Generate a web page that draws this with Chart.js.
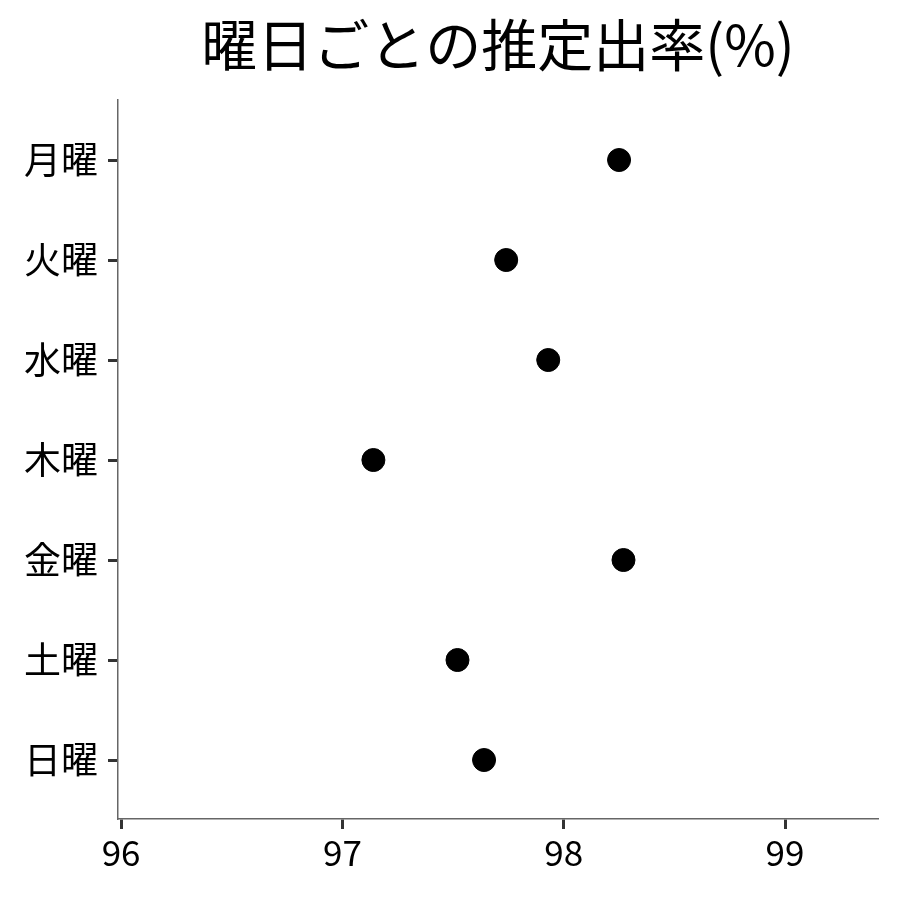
<!DOCTYPE html>
<html>
<head>
<meta charset="utf-8">
<script src="https://cdn.jsdelivr.net/npm/chart.js@4"></script>
<style>
  html, body { margin: 0; padding: 0; background: #fff; }
  #wrap { width: 900px; height: 900px; }
</style>
</head>
<body>
<div id="wrap"><canvas id="chart" width="900" height="900"></canvas></div>
<script>
// 曜日ごとの推定出率
const days = ["月曜", "火曜", "水曜", "木曜", "金曜", "土曜", "日曜"];
const rates = [98.25, 97.74, 97.93, 97.14, 98.27, 97.52, 97.64];
const xTicks = [96, 97, 98, 99];
const titleText = "曜日ごとの推定出率(%)";

const FONT = "'Noto Sans CJK JP', 'Noto Sans', sans-serif";

// タイトルはプロット領域の中央に描く
const centerTitle = {
  id: "centerTitle",
  afterDraw(chart) {
    const { ctx, chartArea } = chart;
    ctx.save();
    ctx.font = "56px " + FONT;
    ctx.fillStyle = "#000";
    ctx.textAlign = "center";
    ctx.textBaseline = "middle";
    ctx.fillText(titleText, (chartArea.left + chartArea.right) / 2, 45);
    ctx.restore();
  },
};

new Chart(document.getElementById("chart"), {
  type: "scatter",
  data: {
    datasets: [
      {
        data: rates.map((v, i) => ({ x: v, y: i })),
        backgroundColor: "#000",
        borderColor: "#000",
        pointRadius: 11.5,
        pointHoverRadius: 11.5,
      },
    ],
  },
  options: {
    responsive: false,
    animation: false,
    layout: { padding: { top: 100, right: 22, bottom: 0, left: 0 } },
    plugins: {
      legend: { display: false },
      title: { display: false },
      tooltip: { enabled: false },
    },
    scales: {
      x: {
        type: "linear",
        min: 95.986,
        max: 99.42,
        afterBuildTicks: (scale) => {
          scale.ticks = xTicks.map((v) => ({ value: v }));
        },
        afterFit: (scale) => {
          scale.height = 81;
        },
        ticks: {
          color: "#000",
          font: { family: FONT, size: 35 },
          padding: 3,
        },
        grid: {
          drawOnChartArea: false,
          drawTicks: true,
          tickLength: 10,
          tickColor: "#333",
          tickWidth: 3,
        },
        border: { color: "#666", width: 1.5 },
      },
      y: {
        type: "linear",
        reverse: true,
        min: -0.6,
        max: 6.59,
        afterBuildTicks: (scale) => {
          scale.ticks = days.map((d, i) => ({ value: i }));
        },
        afterFit: (scale) => {
          scale.width = 118;
        },
        ticks: {
          color: "#000",
          font: { family: FONT, size: 37 },
          padding: 10,
          callback: (value) => days[value],
        },
        grid: {
          drawOnChartArea: false,
          drawTicks: true,
          tickLength: 10,
          tickColor: "#333",
          tickWidth: 3,
        },
        border: { color: "#666", width: 1.5 },
      },
    },
  },
  plugins: [centerTitle],
});
</script>
</body>
</html>
